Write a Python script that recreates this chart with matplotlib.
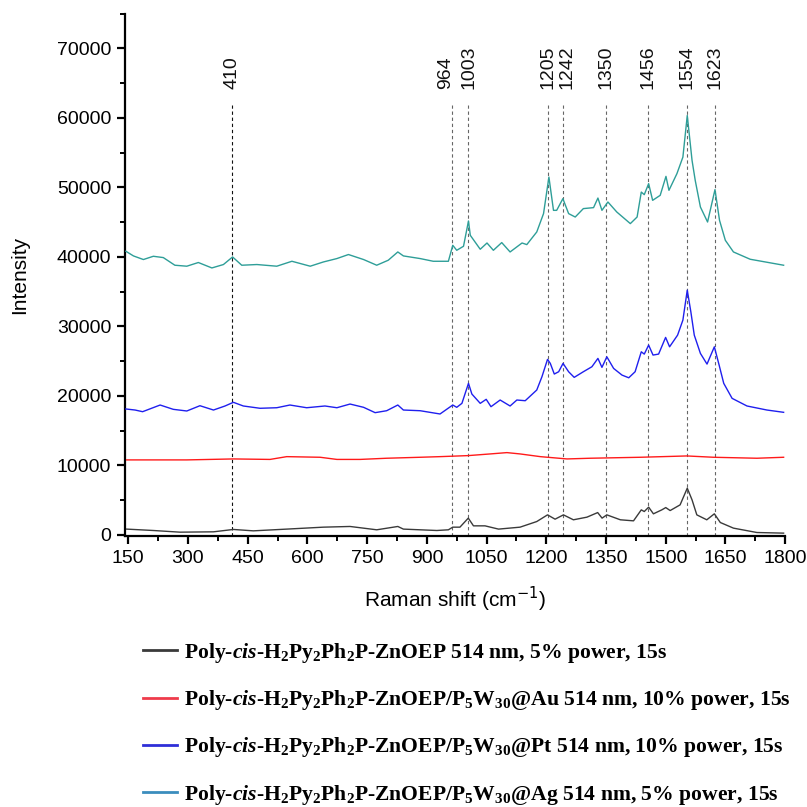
import matplotlib
matplotlib.use("Agg")
import matplotlib.pyplot as plt
from matplotlib.lines import Line2D
from matplotlib.ticker import MultipleLocator

plt.rcParams["font.family"] = ["Liberation Sans", "DejaVu Sans"]
plt.rcParams["mathtext.fontset"] = "custom"
plt.rcParams["mathtext.rm"] = "Liberation Serif:bold"
plt.rcParams["mathtext.it"] = "Liberation Serif:italic:bold"
plt.rcParams["mathtext.bf"] = "Liberation Serif:bold"

# ---- spectra (Raman shift in cm-1, intensity in counts) ----
x_ag = [144, 163, 188, 213, 238, 267, 297, 326, 360, 389, 412, 435, 473, 523, 561,
        607, 640, 674, 703, 741, 774, 803, 827, 841, 883, 916, 954, 965, 975, 992,
        1004.5, 1009, 1034, 1051, 1067, 1088, 1109, 1139, 1151, 1176, 1193, 1206.5,
        1218, 1226, 1241.6, 1256, 1272.6, 1293, 1318.6, 1329.6, 1339.7, 1354.7, 1377,
        1411, 1428, 1438.5, 1446, 1457, 1467, 1486, 1500.5, 1508, 1528, 1543, 1554,
        1566, 1574, 1587, 1605, 1623.6, 1635, 1649.6, 1670, 1712, 1796]
y_ag = [40810, 40140, 39620, 40090, 39900, 38800, 38660, 39190, 38410, 38900, 39990,
        38800, 38900, 38660, 39370, 38660, 39270, 39760, 40340, 39620, 38800, 39520,
        40710, 40140, 39760, 39370, 39370, 41670, 40950, 41530, 45170, 43110, 41100,
        42000, 40950, 42060, 40710, 42000, 41770, 43590, 46230, 51490, 46700, 46700,
        48380, 46230, 45740, 46950, 47090, 48470, 46700, 47900, 46460, 44790, 45740,
        49330, 48960, 50540, 48140, 48860, 51590, 49580, 51980, 54360, 60350, 53890,
        51010, 47180, 45020, 49680, 45270, 42390, 40710, 39660, 38800]

x_pt = [144, 167, 186, 230, 263, 297, 330, 364, 393, 414, 439, 481, 523, 556, 598,
        644, 674, 707, 741, 770, 799, 827, 841, 883, 933, 965, 975, 988, 1004.5,
        1013, 1034, 1049, 1061, 1084, 1109, 1126, 1147, 1176, 1189, 1203, 1210, 1220,
        1231, 1242, 1256, 1270, 1293, 1314.5, 1329.6, 1339.7, 1352, 1369, 1390, 1407,
        1423, 1438.5, 1446, 1457, 1468, 1482, 1499.6, 1509.6, 1529.7, 1543, 1554,
        1563, 1571.6, 1587, 1603.6, 1622, 1634, 1645.6, 1666.6, 1704, 1754, 1796]
y_pt = [18110, 17960, 17720, 18680, 18060, 17820, 18580, 17960, 18540, 19070, 18540,
        18210, 18290, 18680, 18290, 18540, 18290, 18820, 18350, 17580, 17860, 18680,
        17960, 17860, 17390, 18680, 18350, 18920, 21800, 20260, 18920, 19500, 18440,
        19400, 18540, 19400, 19300, 20840, 22750, 25250, 24670, 23140, 23470, 24670,
        23470, 22660, 23470, 24190, 25390, 24100, 25620, 23950, 22990, 22600, 23470,
        26340, 26010, 27300, 25870, 26010, 28410, 27060, 28740, 30900, 35210, 32090,
        28740, 26110, 24570, 27060, 24430, 21800, 19640, 18540, 17960, 17630]

x_au = [146, 297, 414, 506, 548, 632, 674, 732, 799, 883, 933, 1004, 1059, 1101,
        1134, 1185, 1252, 1310, 1436, 1553, 1620, 1729, 1796]
y_au = [10780, 10780, 10920, 10850, 11250, 11160, 10850, 10850, 11020, 11160, 11250,
        11400, 11640, 11830, 11640, 11250, 10920, 11020, 11160, 11350, 11160, 11020,
        11160]

x_bare = [146, 213, 280, 364, 414, 464, 548, 640, 707, 774, 827, 841, 925, 954, 965,
          983, 1004, 1017, 1046, 1080, 1134, 1176, 1203, 1222, 1243, 1268, 1302, 1329,
          1340, 1352, 1386, 1419, 1438.5, 1446, 1457, 1469, 1490, 1500, 1511, 1536,
          1554, 1566, 1578, 1603, 1622, 1637, 1670, 1729, 1796]
y_bare = [820, 620, 380, 430, 770, 570, 820, 1100, 1200, 720, 1200, 820, 620, 720,
          1100, 1100, 2400, 1290, 1290, 820, 1100, 1910, 2870, 2250, 2870, 2160, 2540,
          3200, 2400, 2870, 2160, 2010, 3590, 3350, 3980, 3020, 3590, 3920, 3490, 4310,
          6710, 5030, 2870, 2160, 3020, 1770, 960, 330, 240]

# assigned band positions (cm-1) and where their labels sit
bands = [410, 964, 1003, 1205, 1242, 1350, 1456, 1554, 1623]
band_label_x = [410, 946, 1005, 1203, 1252, 1350, 1456, 1554, 1623]

labels = [
    r"Poly-$\mathit{cis}$-H$_2$Py$_2$Ph$_2$P-ZnOEP 514 nm, 5% power, 15s",
    r"Poly-$\mathit{cis}$-H$_2$Py$_2$Ph$_2$P-ZnOEP/P$_5$W$_{30}$@Au 514 nm, 10% power, 15s",
    r"Poly-$\mathit{cis}$-H$_2$Py$_2$Ph$_2$P-ZnOEP/P$_5$W$_{30}$@Pt 514 nm, 10% power, 15s",
    r"Poly-$\mathit{cis}$-H$_2$Py$_2$Ph$_2$P-ZnOEP/P$_5$W$_{30}$@Ag 514 nm, 5% power, 15s",
]
curve_colors = ["#3a3a3a", "#ff1a1a", "#1f1fee", "#2e9e98"]
legend_colors = ["#3a3a3a", "#ef3b4b", "#2f2fd8", "#3b8dbd"]

fig = plt.figure(figsize=(8.07, 8.07), dpi=100)
ax = fig.add_axes([0.155, 0.336, 0.818, 0.647])

series = [(x_bare, y_bare), (x_au, y_au), (x_pt, y_pt), (x_ag, y_ag)]
for (xs, ys), c in zip(series, curve_colors):
    ax.plot(xs, ys, color=c, lw=1.0, zorder=3)

ymin, ymax = -150, 75000
line_top = 61800
for b, bx in zip(bands, band_label_x):
    col = "#111111" if b == 410 else "#666666"
    ax.plot([b, b], [ymin, line_top], color=col, lw=0.8,
            linestyle=(0, (3, 2.5)), zorder=2)
    ax.text(bx, line_top + 2300, str(b), rotation=90, ha="center", va="bottom",
            fontsize=14, color="#111111")

ax.set_xlim(142, 1800)
ax.set_ylim(ymin, ymax)
ax.xaxis.set_minor_locator(MultipleLocator(75))
ax.yaxis.set_minor_locator(MultipleLocator(5000))
ax.set_xticks(range(150, 1801, 150))
ax.set_yticks(range(0, 70001, 10000))

for side in ("top", "right"):
    ax.spines[side].set_visible(False)
for side in ("left", "bottom"):
    ax.spines[side].set_linewidth(1.6)
ax.tick_params(axis="both", which="major", direction="out", length=6, width=1.6,
               labelsize=14, pad=4)
ax.tick_params(axis="both", which="minor", direction="out", length=3.5, width=1.4)

ax.set_xlabel(r"Raman shift (cm$^{-1}$)", fontsize=15, labelpad=13)
ax.set_ylabel("Intensity", fontsize=15, labelpad=20)
ax.xaxis.label.set_math_fontfamily("dejavusans")

handles = [Line2D([], [], color=c, lw=2.0) for c in legend_colors]
fig.legend(handles, labels, loc="upper left", bbox_to_anchor=(0.166, 0.2165),
           frameon=False, handlelength=1.6, handletextpad=0.3,
           labelspacing=1.07, borderaxespad=0,
           prop={"family": "Liberation Serif", "weight": "bold", "size": 15.6})

fig.savefig("out.png", dpi=100)
